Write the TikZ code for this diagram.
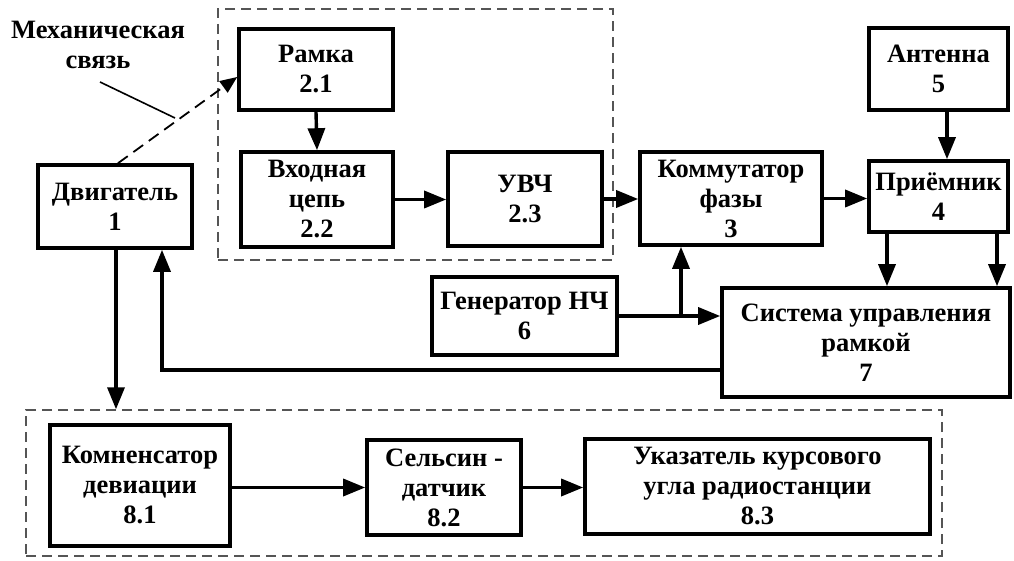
\documentclass[tikz,border=0pt]{standalone}
\usepackage{fontspec}
\setmainfont{Liberation Serif}
\usetikzlibrary{arrows.meta}
\definecolor{dashgray}{RGB}{85,85,85}
\begin{document}
\begin{tikzpicture}[x=1pt,y=-1pt,
  every node/.style={font=\fontsize{26.5}{30}\selectfont\bfseries, align=center},
  blk/.style={draw, line width=3.6pt, inner sep=0pt},
  grp/.style={draw=dashgray, line width=1.4pt, dash pattern=on 10pt off 6pt, inner sep=0pt},
  arr/.style={line width=3.4pt, -{Triangle[length=22pt,width=17pt]}},
  mech/.style={line width=1.8pt, dash pattern=on 12pt off 7pt, -{Triangle[length=17pt,width=14pt]}},
  lbl/.style={line width=1.6pt}]
\useasboundingbox (0,0) rectangle (1014,561);
% groups
\node[grp, minimum width=395pt, minimum height=251pt] (g2) at (415.5,134.5) {};
\node[grp, minimum width=916pt, minimum height=146pt] (g8) at (484,483) {};
% blocks
\node[blk, minimum width=154pt, minimum height=83pt] (din) at (115,206.5) {Двигатель\\1};
\node[blk, minimum width=154pt, minimum height=81pt] (ramka) at (316,69.5) {Рамка\\2.1};
\node[blk, minimum width=152pt, minimum height=95pt] (vhod) at (317,199.5) {Входная\\цепь\\2.2};
\node[blk, minimum width=154pt, minimum height=94pt] (uvch) at (525,199) {УВЧ\\2.3};
\node[blk, minimum width=182pt, minimum height=93pt] (komm) at (731,198.5) {Коммутатор\\фазы\\3};
\node[blk, minimum width=139pt, minimum height=82pt] (ant) at (938.5,69) {Антенна\\5};
\node[blk, minimum width=139pt, minimum height=71pt] (prm) at (938.5,196.5) {Приёмник\\4};
\node[blk, minimum width=288pt, minimum height=109pt] (sys) at (866,342.5) {Система управления\\рамкой\\7};
\node[blk, minimum width=185pt, minimum height=78pt] (gen) at (524.5,316) {Генератор НЧ\\6};
\node[blk, minimum width=180pt, minimum height=121pt] (k81) at (140,485.5) {Комненсатор\\девиации\\8.1};
\node[blk, minimum width=154pt, minimum height=95pt] (s82) at (444,487.5) {Сельсин -\\датчик\\8.2};
\node[blk, minimum width=345pt, minimum height=95pt] (u83) at (757.5,486.5) {Указатель курсового\\угла радиостанции\\8.3};
% label
\node (mlbl) at (98,45) {Механическая\\связь};
% helper coordinates
\coordinate (xant) at (947,0);
\coordinate (xp1) at (887,0);
\coordinate (xp2) at (997,0);
\coordinate (xbr) at (681,0);
\coordinate (fb) at (162,370);
\coordinate (xdn) at (116,0);
\coordinate (mtip) at (0,77);
\coordinate (mstart) at (118,0);
\coordinate (l1) at (100,82);
\coordinate (l2) at (175,118);
% connectors
\draw[arr] (ramka.south) -- (vhod.north);
\draw[arr] (vhod.east) -- (vhod.east -| uvch.west);
\draw[arr] (uvch.east) -- (uvch.east -| komm.west);
\draw[arr] (komm.east) -- (komm.east -| prm.west);
\draw[arr] (ant.south -| xant) -- (prm.north -| xant);
\draw[arr] (prm.south -| xp1) -- (sys.north -| xp1);
\draw[arr] (prm.south -| xp2) -- (sys.north -| xp2);
\draw[arr] (gen.east) -- (gen.east -| sys.west);
\draw[arr] (gen.east -| xbr) -- (komm.south -| xbr);
\draw[arr] (sys.west |- fb) -- (fb) -- (fb |- din.south);
\draw[arr] (din.south -| xdn) -- (g8.north -| xdn);
\draw[arr] (k81.east |- s82.west) -- (s82.west);
\draw[arr] (s82.east) -- (s82.east -| u83.west);
\draw[mech] (din.north -| mstart) -- (ramka.west |- mtip);
\draw[lbl] (l1) -- (l2);
\end{tikzpicture}
\end{document}
